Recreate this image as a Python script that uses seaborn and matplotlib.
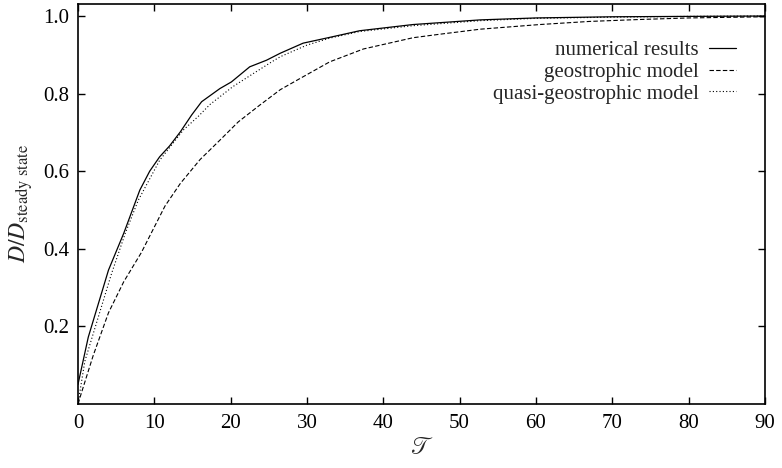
import matplotlib
matplotlib.use("Agg")
import matplotlib.pyplot as plt
import seaborn as sns

# values
num_t = [0, 1.35, 4.0, 6.0, 8.1, 9.4, 10.7, 12.0, 13.4, 14.9, 16.2, 18.6, 20.1, 22.5, 24.7,
         26.5, 29.5, 33.0, 36.9, 43.9, 52.7, 60, 70, 80, 90]
num_d = [0.05, 0.172, 0.345, 0.44, 0.551, 0.600, 0.637, 0.665, 0.701, 0.745, 0.779, 0.813, 0.830,
         0.869, 0.886, 0.904, 0.930, 0.945, 0.962, 0.978, 0.990, 0.995, 0.998, 0.999, 1.0]

geo_t = [0, 2.0, 4.0, 6.0, 8.3, 11.4, 13.4, 16.0, 18.6, 21.0, 23.8, 26.5, 29.1, 33.0, 37.4,
         43.9, 47.4, 52.7, 60.5, 67, 73.6, 80, 90]
geo_d = [0.0, 0.125, 0.235, 0.315, 0.39, 0.510, 0.568, 0.630, 0.680, 0.727, 0.770, 0.810, 0.839,
         0.882, 0.915, 0.944, 0.953, 0.966, 0.978, 0.986, 0.991, 0.995, 0.998]

quasi_t = [0, 0.9, 2.0, 4.4, 6.2, 7.9, 10.7, 13.8, 15.8, 17.3, 20.3, 23.0, 25.4, 26.5, 30.0,
           33.0, 36.9, 43.9, 52.7, 60, 70, 80, 90]
quasi_d = [0.0, 0.11, 0.181, 0.336, 0.44, 0.525, 0.628, 0.706, 0.742, 0.772, 0.818, 0.852,
           0.882, 0.895, 0.925, 0.943, 0.960, 0.975, 0.988, 0.994, 0.997, 0.999, 1.0]

x_ticks = [0, 10, 20, 30, 40, 50, 60, 70, 80, 90]
y_ticks = [0.2, 0.4, 0.6, 0.8, 1.0]

sns.set_style("ticks")
plt.rcParams['font.family'] = ['Liberation Serif', 'DejaVu Serif']
plt.rcParams['mathtext.fontset'] = 'stix'
plt.rcParams['xtick.direction'] = 'in'
plt.rcParams['ytick.direction'] = 'in'

fig = plt.figure(figsize=(7.82, 4.68), dpi=100)
ax = fig.add_axes([0.0997, 0.137, 0.8785, 0.8545])

sns.lineplot(x=num_t, y=num_d, ax=ax, color='black', lw=0.9, label='numerical results')
sns.lineplot(x=geo_t, y=geo_d, ax=ax, color='black', lw=0.8, linestyle=(0, (4, 2)),
             label='geostrophic model')
sns.lineplot(x=quasi_t, y=quasi_d, ax=ax, color='black', lw=0.8, linestyle=(0, (1, 2)),
             label='quasi-geostrophic model')

ax.set_xlim(0, 90)
ax.set_ylim(0, 1.031)
ax.set_xticks(x_ticks)
ax.set_yticks(y_ticks)
ax.set_yticklabels([f"{v:.1f}" for v in y_ticks])
ax.tick_params(axis='both', which='both', top=True, right=True, length=5, width=1,
               labelsize=15, colors='black')
ax.tick_params(axis='x', pad=7)
ax.tick_params(axis='y', pad=6)
for s in ax.spines.values():
    s.set_linewidth(1.2)
    s.set_color('black')

ax.set_xlabel(r'$\mathscr{T}$', fontsize=17, labelpad=4)
ax.set_ylabel(r'$D/D_{\mathrm{steady\ state}}$', fontsize=17, labelpad=6)

ax.legend(loc='upper right', bbox_to_anchor=(0.985, 0.955), frameon=False, markerfirst=False,
          fontsize=15, handlelength=1.3, handletextpad=0.5, labelspacing=0.1)

fig.savefig("out.png", dpi=100)
